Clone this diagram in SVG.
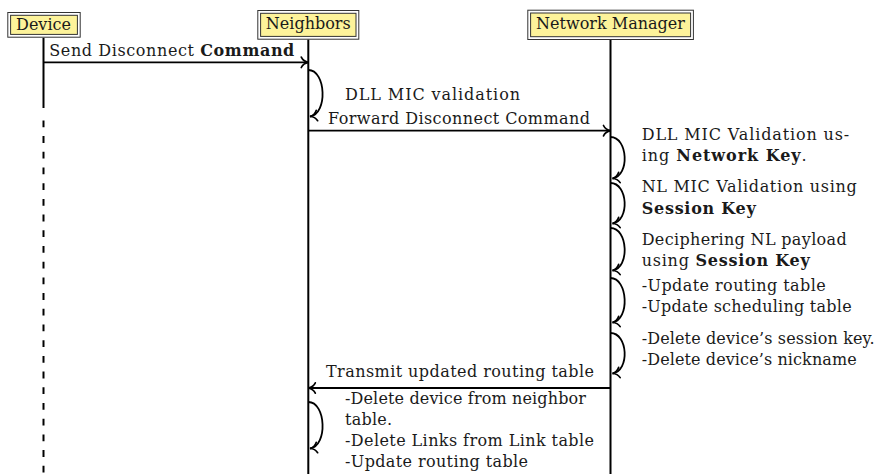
<svg xmlns="http://www.w3.org/2000/svg" width="877" height="474" viewBox="0 0 877 474">
<style>
text { font-family: "DejaVu Serif", "Liberation Serif", serif; font-size: 16px; fill: #1a1a1a; }
.b { font-weight: bold; }
.outer { fill: #ffffff; stroke: #333333; stroke-width: 1; }
.inner { fill: #fdf39a; stroke: #333333; stroke-width: 1; }
.life { stroke: #000; stroke-width: 2; fill: none; }
.msg { stroke: #000; stroke-width: 1.8; fill: none; marker-end: url(#arr); }
</style>
<defs>
<marker id="arr" markerUnits="userSpaceOnUse" markerWidth="14" markerHeight="14" viewBox="-9 -7 12 14" refX="0" refY="0" orient="auto">
<path d="M-7,-5.2 C-5.6,-2.2 -2.6,-0.5 0,0 C-2.6,0.5 -5.6,2.2 -7,5.2" fill="none" stroke="#000" stroke-width="1.7" stroke-linecap="round"/>
</marker>
</defs>

<g id="lifelines">
<line class="life" x1="43.5" y1="37.7" x2="43.5" y2="108"/>
<line class="life" x1="43.5" y1="120.4" x2="43.5" y2="474" stroke-dasharray="6.8 8.9"/>
<line class="life" x1="308.3" y1="39.5" x2="308.3" y2="474"/>
<line class="life" x1="610.5" y1="40" x2="610.5" y2="474"/>
</g>

<g id="node-device">
<rect class="outer" x="7.8" y="12.5" width="72.4" height="24.7"/>
<rect class="inner" x="10.6" y="15.3" width="66.8" height="19.1"/>
<text x="43.5" y="30.3" text-anchor="middle">Device</text>
</g>

<g id="node-neighbors">
<rect class="outer" x="257.8" y="10.5" width="101" height="28.7"/>
<rect class="inner" x="260.6" y="13.3" width="95.4" height="23.1"/>
<text x="308.3" y="29" text-anchor="middle">Neighbors</text>
</g>

<g id="node-network-manager">
<rect class="outer" x="527.8" y="10.2" width="165.6" height="29.3"/>
<rect class="inner" x="530.6" y="13" width="160" height="23.7"/>
<text x="610.5" y="29" text-anchor="middle">Network Manager</text>
</g>

<g id="connectors">
<line class="msg" x1="43.5" y1="62.3" x2="308.3" y2="62.3"/>
<text x="49.3" y="55.7" textLength="245">Send Disconnect <tspan class="b">Command</tspan></text>

<path class="msg" d="M308.3,70 C326,70 328,114 310,116.5"/>
<text x="345" y="99.5" textLength="175">DLL MIC validation</text>

<line class="msg" x1="308.3" y1="130.7" x2="610.5" y2="130.7"/>
<text x="328" y="124" textLength="262">Forward Disconnect Command</text>

<path class="msg" d="M610.5,137 C628,137 630,176 612.5,178.5"/>
<path class="msg" d="M610.5,183 C628,183 630,221 612.5,223.5"/>
<path class="msg" d="M610.5,228 C628,228 630,268 612.5,270.5"/>
<path class="msg" d="M610.5,278 C628,278 630,320 612.5,322.5"/>
<path class="msg" d="M610.5,333 C628,333 630,371 612.5,373.5"/>

<text x="641.7" y="140" textLength="207.5">DLL MIC Validation us-</text>
<text x="641.7" y="161" textLength="165">ing <tspan class="b">Network Key</tspan>.</text>
<text x="641.7" y="192" textLength="215">NL MIC Validation using</text>
<text x="641.7" y="213.5" textLength="114"><tspan class="b">Session Key</tspan></text>
<text x="641.7" y="245" textLength="205">Deciphering NL payload</text>
<text x="641.7" y="266" textLength="168">using <tspan class="b">Session Key</tspan></text>
<text x="641.7" y="291" textLength="184">-Update routing table</text>
<text x="641.7" y="312" textLength="210">-Update scheduling table</text>
<text x="641.7" y="344" textLength="233">-Delete device’s session key.</text>
<text x="641.7" y="365" textLength="215">-Delete device’s nickname</text>

<line class="msg" x1="610.5" y1="388" x2="308.3" y2="388"/>
<text x="326" y="377" textLength="268">Transmit updated routing table</text>

<path class="msg" d="M308.3,402 C326,402 328,446 310,448.5"/>
<text x="345" y="404" textLength="241">-Delete device from neighbor</text>
<text x="345" y="425" textLength="47">table.</text>
<text x="345" y="446" textLength="249">-Delete Links from Link table</text>
<text x="345" y="467" textLength="183">-Update routing table</text>
</g>
</svg>
